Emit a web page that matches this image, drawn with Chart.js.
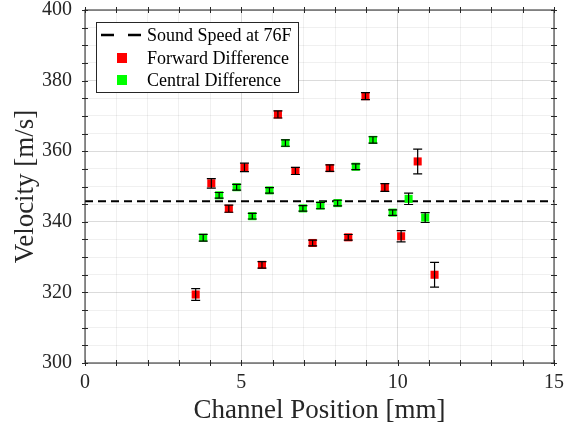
<!DOCTYPE html>
<html>
<head>
<meta charset="utf-8">
<script src="https://cdn.jsdelivr.net/npm/chart.js@4.4.1/dist/chart.umd.min.js"></script>
<style>
  body { margin: 0; background: #fff; }
  canvas { display: block; }
</style>
</head>
<body>
<canvas id="chart" width="565" height="431"></canvas>
<script>
// Datos
const soundSpeed = 345.8; // m/s a 76F

const forwardX = [3.54, 4.04, 4.60, 5.10, 5.66, 6.17, 6.73, 7.28, 7.83, 8.42, 8.97, 9.59, 10.11, 10.64, 11.18];
const forwardV = [319.4, 350.9, 343.7, 355.4, 327.8, 370.4, 354.4, 334.0, 355.2, 335.6, 375.6, 349.7, 335.9, 357.1, 325.0];
const forwardErr = [1.65, 1.35, 1.0, 1.2, 0.9, 1.0, 1.0, 0.8, 0.9, 0.8, 1.0, 1.1, 1.6, 3.5, 3.5];

const centralX = [3.78, 4.29, 4.85, 5.35, 5.90, 6.41, 6.97, 7.53, 8.08, 8.66, 9.21, 9.84, 10.35, 10.88];
const centralV = [335.5, 347.5, 349.8, 341.6, 348.9, 362.3, 343.8, 344.6, 345.3, 355.6, 363.2, 342.6, 346.5, 341.2];
const centralErr = [0.95, 0.8, 0.8, 0.8, 0.8, 0.9, 0.8, 0.9, 0.8, 0.8, 0.9, 0.8, 1.6, 1.4];

const xMin = 0, xMax = 15, xMajor = 5;
const yMin = 300, yMax = 400, yMajor = 20;

const serif = "'Liberation Serif', 'Times New Roman', serif";
const ink = '#262626';

const toPoints = (xs, ys) => xs.map((x, i) => ({ x: x, y: ys[i] }));

// Barras de error (usa las escalas del gráfico)
const errorBars = {
  id: 'errorBars',
  afterDatasetsDraw(chart) {
    const { ctx, scales: { x, y } } = chart;
    ctx.save();
    ctx.strokeStyle = '#000';
    ctx.lineWidth = 1.2;
    chart.data.datasets.forEach((ds, i) => {
      if (!ds.errors) return;
      ds.data.forEach((p, j) => {
        const px = x.getPixelForValue(p.x);
        const top = y.getPixelForValue(p.y + ds.errors[j]);
        const bot = y.getPixelForValue(p.y - ds.errors[j]);
        ctx.beginPath();
        ctx.moveTo(px, top); ctx.lineTo(px, bot);
        ctx.moveTo(px - 4.5, top); ctx.lineTo(px + 4.5, top);
        ctx.moveTo(px - 4.5, bot); ctx.lineTo(px + 4.5, bot);
        ctx.stroke();
      });
    });
    ctx.restore();
  }
};

// Marco con marcas de graduación en los cuatro lados
const frame = {
  id: 'frame',
  afterDraw(chart) {
    const { ctx, chartArea: a, scales: { x, y } } = chart;
    ctx.save();
    ctx.strokeStyle = ink;
    ctx.lineWidth = 1;
    ctx.strokeRect(a.left, a.top, a.right - a.left, a.bottom - a.top);
    ctx.beginPath();
    for (let v = xMin; v <= xMax; v += 1) {
      const px = Math.round(x.getPixelForValue(v)) + 0.5;
      ctx.moveTo(px, a.bottom + 3); ctx.lineTo(px, a.bottom - 3);
      ctx.moveTo(px, a.top - 3); ctx.lineTo(px, a.top + 3);
    }
    for (let v = yMin; v <= yMax; v += 5) {
      const py = Math.round(y.getPixelForValue(v)) + 0.5;
      ctx.moveTo(a.left - 3, py); ctx.lineTo(a.left + 3, py);
      ctx.moveTo(a.right - 3, py); ctx.lineTo(a.right + 3, py);
    }
    ctx.stroke();
    ctx.restore();
  }
};

// Leyenda dentro del área con recuadro
const boxLegend = {
  id: 'boxLegend',
  afterDraw(chart) {
    const ctx = chart.ctx;
    const bx = 96, by = 22, bw = 202, bh = 70;
    ctx.save();
    ctx.fillStyle = '#fff';
    ctx.fillRect(bx, by, bw, bh);
    ctx.strokeStyle = ink;
    ctx.lineWidth = 1;
    ctx.strokeRect(bx + 0.5, by + 0.5, bw, bh);
    const rows = [35, 58, 80];
    ctx.font = '18px ' + serif;
    ctx.textBaseline = 'middle';
    ctx.textAlign = 'left';
    chart.data.datasets.forEach((ds, i) => {
      const cy = rows[i];
      if (ds.borderDash) {
        ctx.strokeStyle = '#000';
        ctx.lineWidth = 2.5;
        ctx.beginPath();
        ctx.moveTo(101, cy); ctx.lineTo(114, cy);
        ctx.moveTo(128, cy); ctx.lineTo(141, cy);
        ctx.stroke();
      } else {
        ctx.fillStyle = ds.backgroundColor;
        ctx.fillRect(117, cy - 5, 10, 10);
      }
      ctx.fillStyle = '#000';
      ctx.fillText(ds.label, 147, cy + 1);
    });
    ctx.restore();
  }
};

new Chart(document.getElementById('chart'), {
  type: 'scatter',
  data: {
    datasets: [
      {
        type: 'line',
        label: 'Sound Speed at 76F',
        data: [{ x: xMin, y: soundSpeed }, { x: xMax, y: soundSpeed }],
        borderColor: '#000',
        borderWidth: 2,
        borderDash: [8, 5],
        pointRadius: 0,
        order: 2
      },
      {
        label: 'Forward Difference',
        data: toPoints(forwardX, forwardV),
        errors: forwardErr,
        pointStyle: 'rect',
        pointRadius: 5.7,
        backgroundColor: '#ff0000',
        borderWidth: 0,
        order: 0
      },
      {
        label: 'Central Difference',
        data: toPoints(centralX, centralV),
        errors: centralErr,
        pointStyle: 'rect',
        pointRadius: 5.7,
        backgroundColor: '#00ff00',
        borderWidth: 0,
        order: 0
      }
    ]
  },
  options: {
    responsive: false,
    animation: false,
    devicePixelRatio: 1,
    layout: { padding: { top: 10, right: 11, left: 0, bottom: 0 } },
    plugins: { legend: { display: false }, tooltip: { enabled: false } },
    scales: {
      x: {
        type: 'linear',
        min: xMin,
        max: xMax,
        afterFit: s => { s.height = 68; s.paddingLeft = 0; s.paddingRight = 0; },
        border: { display: false },
        grid: {
          drawTicks: false,
          color: c => c.tick.value % xMajor === 0 ? 'rgba(0,0,0,0.14)' : 'rgba(0,0,0,0.06)'
        },
        ticks: {
          stepSize: 1,
          autoSkip: false,
          maxRotation: 0,
          padding: 8,
          color: ink,
          font: { family: serif, size: 20 },
          callback: v => v % xMajor === 0 ? v : ''
        },
        title: {
          display: true,
          text: 'Channel Position [mm]',
          color: ink,
          font: { family: serif, size: 27 },
          padding: { top: 0, bottom: 4 }
        }
      },
      y: {
        min: yMin,
        max: yMax,
        afterFit: s => { s.width = 85; s.paddingTop = 0; s.paddingBottom = 0; },
        border: { display: false },
        grid: {
          drawTicks: false,
          color: c => c.tick.value % yMajor === 0 ? 'rgba(0,0,0,0.14)' : 'rgba(0,0,0,0.06)'
        },
        ticks: {
          stepSize: 5,
          autoSkip: false,
          padding: 13,
          color: ink,
          font: { family: serif, size: 20 },
          callback: v => v % yMajor === 0 ? v : ''
        },
        title: {
          display: true,
          text: 'Velocity [m/s]',
          color: ink,
          font: { family: serif, size: 27 },
          padding: { top: 10, bottom: 0 }
        }
      }
    }
  },
  plugins: [errorBars, frame, boxLegend]
});
</script>
</body>
</html>
